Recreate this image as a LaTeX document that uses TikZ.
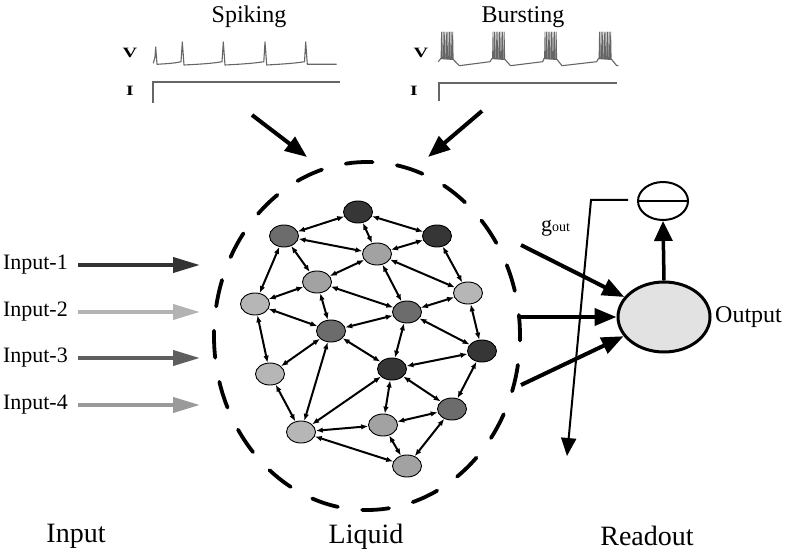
\documentclass[tikz,border=0pt]{standalone}
\usepackage{fontspec}
\setmainfont{Liberation Serif}
\usetikzlibrary{arrows.meta,shapes.geometric}
\definecolor{nDark}{HTML}{363636}
\definecolor{nMid}{HTML}{6C6C6C}
\definecolor{nLight}{HTML}{B6B6B6}
\definecolor{nLightB}{HTML}{A2A2A2}
\definecolor{traceGray}{HTML}{666666}
\definecolor{inA}{HTML}{333333}
\definecolor{inB}{HTML}{B3B3B3}
\definecolor{inC}{HTML}{5E5E5E}
\definecolor{inD}{HTML}{9A9A9A}
\definecolor{outFill}{HTML}{E2E2E2}
\begin{document}
\begin{tikzpicture}[x=1pt,y=-1pt,
  neuron/.style={ellipse,draw,line width=0.9pt,minimum width=29pt,minimum height=22pt,inner sep=0pt},
  dk/.style={neuron,fill=nDark},
  md/.style={neuron,fill=nMid},
  lt/.style={neuron,fill=nLight},
  ltb/.style={neuron,fill=nLightB},
  link/.style={{Latex[length=7pt,width=5.5pt]}-{Latex[length=7pt,width=5.5pt]},line width=2pt},
  trace/.style={traceGray,line width=1.1pt,line join=round},
  stim/.style={traceGray,line width=2pt},
  bigarrow/.style={-{Triangle[length=22pt,width=17pt]},line width=4pt},
  inarrow/.style={-{Triangle[length=27pt,width=15pt]},line width=4pt},
  lbl/.style={inner sep=0pt,font=\fontsize{22}{24}\selectfont},
  title/.style={inner sep=0pt,anchor=base,font=\fontsize{24}{26}\selectfont},
  bottom/.style={inner sep=0pt,font=\fontsize{28}{30}\selectfont},
  vi/.style={inner sep=0pt,font=\bfseries\fontsize{15}{16}\selectfont}
]
\useasboundingbox (0,0) rectangle (786,553);

% ---------- top traces ----------
\node[title] (tspk) at (249,23) {Spiking};
\node[title] (tbst) at (523,23) {Bursting};
\node[vi] (v1) at (130,53) {\scalebox{1.35}[0.95]{V}};
\node[vi] (i1) at (130,91) {\scalebox{1.3}[0.95]{I}};
\node[vi] (v2) at (421,53) {\scalebox{1.35}[0.95]{V}};
\node[vi] (i2) at (414,91) {\scalebox{1.3}[0.95]{I}};

\draw[trace] (153.3,63.3) -- (155,57) -- (155.7,47) -- (157,64.3)
  .. controls (170,63.5) and (176,63) .. (181,61.7) -- (182.3,42) -- (184,65)
  .. controls (205,64) and (215,63) .. (222,61.7) -- (223.3,42) -- (225,65)
  .. controls (245,64) and (256,63) .. (263.8,61.7) -- (265,42) -- (266.7,65)
  .. controls (285,64) and (297,63) .. (304.5,61.7) -- (305.7,42) -- (307.3,64.3) -- (336.7,64.3);
\draw[stim] (153,103) -- (153,82) -- (340,82);

\draw[trace] (438.3,61.7) -- (440.7,58.5) -- (453.3,59.5) -- (459.3,65.7)
  -- (490,61.7) -- (492,58.5) -- (505,59.5) -- (510.5,65.7)
  -- (542.7,61.7) -- (544,58.5) -- (557,59.5) -- (562,65.7)
  -- (596.7,61.7) -- (598.5,58.5) -- (611.7,59.5) -- (616.7,65.7) -- (618.3,65.5);
\foreach \bx in {441,492.5,544.5,599}
  \foreach \k in {0,...,7}
    \draw[trace,line width=0.8pt] ({\bx+1.6*\k},59) -- ({\bx+1.6*\k+0.5},32) -- ({\bx+1.6*\k+1},59);
\draw[stim] (439,101) -- (439,83) -- (617,83);

% ---------- arrows into liquid ----------
\coordinate (sa) at (252,115);
\coordinate (sb) at (307,157);
\coordinate (ba) at (482,111);
\coordinate (bb) at (428,157);
\draw[bigarrow] (sa) -- (sb);
\draw[bigarrow] (ba) -- (bb);

% ---------- liquid ----------
\node[ellipse,draw,line width=3.8pt,line cap=round,dash pattern=on 27pt off 24.5pt,dash phase=6pt,
      minimum width=306pt,minimum height=348pt,inner sep=0pt] (liquid) at (367,336) {};

\node[dk] (n1) at (358,212) {};
\node[md] (n2) at (284,236) {};
\node[dk] (n3) at (437,236) {};
\node[ltb] (n4) at (377,254) {};
\node[ltb] (n5) at (317,282) {};
\node[lt] (n6) at (255,304) {};
\node[lt] (n7) at (468,293) {};
\node[md] (n8) at (407,312) {};
\node[md] (n9) at (331,331) {};
\node[dk] (n10) at (482,351) {};
\node[dk] (n11) at (392,369) {};
\node[lt] (n12) at (270,374) {};
\node[md] (n13) at (452,409) {};
\node[ltb] (n14) at (383,425) {};
\node[lt] (n15) at (301,432) {};
\node[ltb] (n16) at (407,466) {};

\foreach \a/\b in {1/2,1/3,1/4,2/4,2/5,2/6,3/4,3/7,4/5,4/7,4/8,5/6,5/9,5/8,6/9,6/12,
                   7/8,7/10,8/10,8/11,9/8,9/11,9/12,9/15,10/11,10/13,11/15,11/14,11/13,
                   12/15,14/15,13/14,13/16,14/16,15/16}
  \draw[link] (n\a) -- (n\b);

% ---------- inputs ----------
\node[lbl,anchor=east] (in1) at (68,265) {Input-1};
\node[lbl,anchor=east] (in2) at (68,312) {Input-2};
\node[lbl,anchor=east] (in3) at (68,358) {Input-3};
\node[lbl,anchor=east] (in4) at (68,405) {Input-4};
\coordinate (e1) at (200,265);
\coordinate (e2) at (200,312);
\coordinate (e3) at (200,358);
\coordinate (e4) at (200,405);
\draw[inarrow,inA] ([xshift=10pt]in1.east) -- (e1);
\draw[inarrow,inB] ([xshift=10pt]in2.east) -- (e2);
\draw[inarrow,inC] ([xshift=10pt]in3.east) -- (e3);
\draw[inarrow,inD] ([xshift=10pt]in4.east) -- (e4);

% ---------- readout ----------
\node[ellipse,draw,line width=3pt,fill=outFill,minimum width=92pt,minimum height=70pt,inner sep=0pt] (out) at (664,317) {};
\node[ellipse,draw,line width=2pt,minimum width=50pt,minimum height=38pt,inner sep=0pt] (sub) at (663,201) {};
\draw[line width=2pt] (sub.west) -- (sub.east);
\node[lbl,anchor=west,font=\fontsize{24}{26}\selectfont] (outlbl) at (715,317) {Output};
\draw[-{Triangle[length=20pt,width=18pt]},line width=3.5pt] (out.north) -- (sub.south);

\coordinate (r1) at (521,245);
\coordinate (r2) at (521,317);
\coordinate (r3) at (521,385);
\draw[bigarrow] (r1) -- (out);
\draw[bigarrow] (r2) -- (out);
\draw[bigarrow] (r3) -- (out);

\coordinate (g1) at (628,200);
\coordinate (g2) at (591,200);
\coordinate (g3) at (567,456);
\draw[-{Triangle[length=18pt,width=15pt]},line width=2pt] (g1) -- (g2) -- (g3);
\node[inner sep=0pt,anchor=base west] (gout) at (541,231)
  {\fontsize{22}{23}\selectfont g\fontsize{14}{15}\selectfont out};

% ---------- bottom labels ----------
\node[bottom] (lin) at (76,536) {Input};
\node[bottom] (lliq) at (366,537) {Liquid};
\node[bottom] (lro) at (647,536) {Readout};
\end{tikzpicture}
\end{document}
